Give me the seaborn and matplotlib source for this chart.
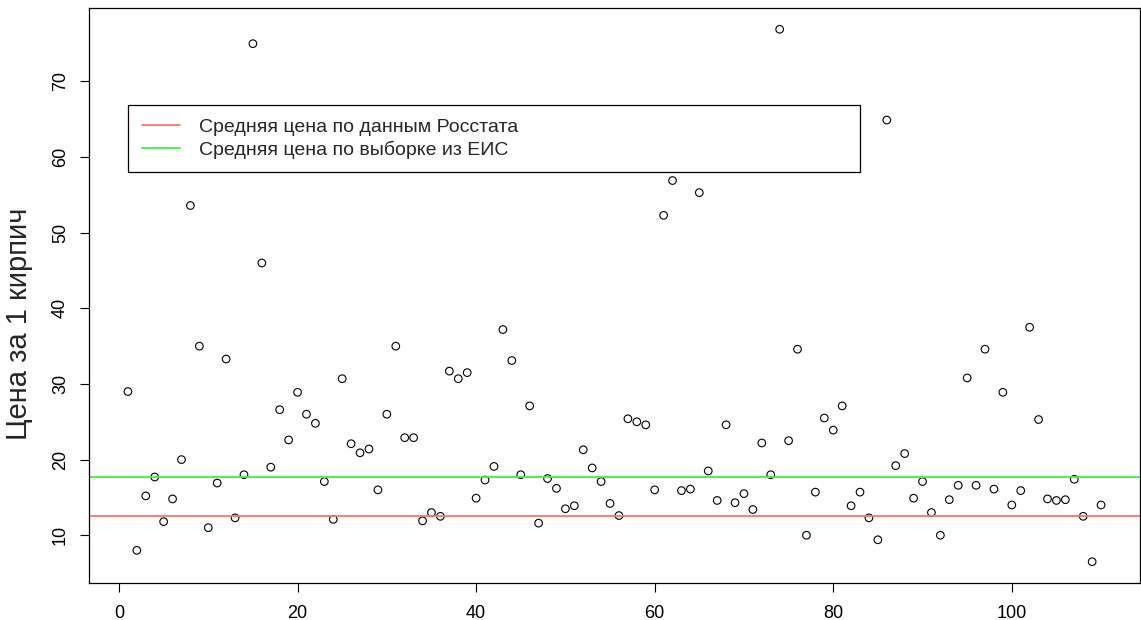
import numpy as np
import pandas as pd
import matplotlib
matplotlib.use("Agg")
import matplotlib.pyplot as plt
import seaborn as sns

# ---- data ----
idx = np.arange(1, 111)
price = [
    29.0, 8.0, 15.2, 17.7, 11.8, 14.8, 20.0, 53.6, 35.0, 11.0,
    16.9, 33.3, 12.3, 18.0, 75.0, 46.0, 19.0, 26.6, 22.6, 28.9,
    26.0, 24.8, 17.1, 12.1, 30.7, 22.1, 20.9, 21.4, 16.0, 26.0,
    35.0, 22.9, 22.9, 11.9, 13.0, 12.5, 31.7, 30.7, 31.5, 14.9,
    17.3, 19.1, 37.2, 33.1, 18.0, 27.1, 11.6, 17.5, 16.2, 13.5,
    13.9, 21.3, 18.9, 17.1, 14.2, 12.6, 25.4, 25.0, 24.6, 16.0,
    52.3, 56.9, 15.9, 16.1, 55.3, 18.5, 14.6, 24.6, 14.3, 15.5,
    13.4, 22.2, 18.0, 76.9, 22.5, 34.6, 10.0, 15.7, 25.5, 23.9,
    27.1, 13.9, 15.7, 12.3, 9.4, 64.9, 19.2, 20.8, 14.9, 17.1,
    13.0, 10.0, 14.7, 16.6, 30.8, 16.6, 34.6, 16.1, 28.9, 14.0,
    15.9, 37.5, 25.3, 14.8, 14.6, 14.7, 17.4, 12.5, 6.5, 14.0,
]
rosstat_mean = 12.6
eis_mean = 17.7
legend_labels = ["Средняя цена по данным Росстата", "Средняя цена по выборке из ЕИС"]
ylabel = "Цена за 1 кирпич"

df = pd.DataFrame({"n": idx, "price": price})

sns.set_style("ticks")
plt.rcParams["font.family"] = ["Liberation Sans", "DejaVu Sans"]

fig = plt.figure(figsize=(11.41, 6.2), dpi=100)
ax = fig.add_axes([89 / 1141, 37 / 620, 1051 / 1141, 575 / 620])

sns.scatterplot(data=df, x="n", y="price", ax=ax, marker="o", s=30,
                facecolors="none", edgecolor="black", linewidth=0.8)

ax.axhline(rosstat_mean, color="#ff7373", lw=1.3, label=legend_labels[0])
ax.axhline(eis_mean, color="#3cf53c", lw=1.3, label=legend_labels[1])

# R style 4% padding around the data range
xr = idx.max() - idx.min()
yr = max(price) - min(price)
ax.set_xlim(idx.min() - 0.04 * xr, idx.max() + 0.04 * xr)
ax.set_ylim(min(price) - 0.04 * yr, max(price) + 0.04 * yr)

ax.set_xticks(range(0, 101, 20))
ax.set_yticks(range(10, 71, 10))
ax.tick_params(axis="both", labelsize=13, length=6.5, width=0.8, color="black",
               labelcolor="black")
ax.tick_params(axis="x", pad=9)
ax.tick_params(axis="y", pad=8)
for lab in ax.get_yticklabels():
    lab.set_rotation(90)
    lab.set_va("center")

for sp in ax.spines.values():
    sp.set_visible(True)
    sp.set_color("black")
    sp.set_linewidth(0.9)

ax.set_xlabel("")
ax.set_ylabel(ylabel, fontsize=21)
ax.yaxis.set_label_coords(-0.053, 0.45)

leg = ax.legend(loc="upper left", bbox_to_anchor=(0.0371, 0.40, 0.6965, 0.4316),
                mode="expand", borderaxespad=0, fontsize=14, frameon=True,
                fancybox=False, shadow=False, framealpha=1, edgecolor="black",
                borderpad=0.7, labelspacing=0.22, handlelength=1.95,
                handletextpad=1.0)
leg.get_frame().set_linewidth(0.9)

fig.savefig("out.png", dpi=100)
